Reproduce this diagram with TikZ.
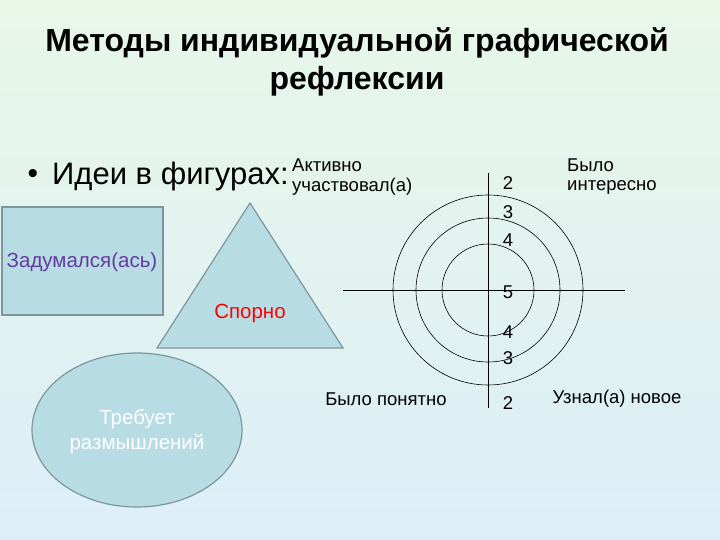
\documentclass[tikz,border=0pt]{standalone}
\usepackage{fontspec}
\setmainfont{Liberation Sans}
\usetikzlibrary{shapes.geometric}
\definecolor{bgtop}{RGB}{232,247,232}
\definecolor{bgbot}{RGB}{220,238,248}
\definecolor{shapefill}{RGB}{184,220,228}
\definecolor{shapeedge}{RGB}{125,150,158}
\definecolor{purp}{RGB}{100,60,160}
\tikzset{
  fig/.style={fill=shapefill,draw=shapeedge,line width=1.2pt},
  small/.style={font=\fontsize{18.5}{21}\selectfont,inner sep=0pt},
  big/.style={font=\fontsize{20.5}{25}\selectfont,inner sep=0pt},
  num/.style={font=\fontsize{18.5}{21}\selectfont,inner sep=0pt},
  ring/.style={draw=black,line width=0.6pt}
}
\begin{document}
\begin{tikzpicture}[x=1pt,y=-1pt]
\useasboundingbox (0,0) rectangle (720,540);
\shade[top color=bgtop,bottom color=bgbot] (0,0) rectangle (720,540);
% title
\node[font=\bfseries\fontsize{32}{38}\selectfont,align=center,inner sep=0pt] (title) at (357,62) {Методы индивидуальной графической\\рефлексии};
\node[font=\fontsize{30}{34}\selectfont,inner sep=0pt] (dot) at (33,176) {•};
\node[font=\fontsize{31}{36}\selectfont,anchor=west,inner sep=0pt] (bullet) at (52,176) {Идеи в фигурах:};
\node[small,anchor=west] (akt1) at (292,165) {Активно};
\node[small,anchor=west] (akt2) at (292,187) {участвовал(а)};
% rectangle
\draw[fig] (2,207) rectangle (163,315);
\node[big,text=purp] (zad) at (82,262) {Задумался(ась)};
% triangle
\draw[fig] (250,203) -- (343,348) -- (157,348) -- cycle;
\node[big,text=red] (sporno) at (250,313) {Спорно};
% ellipse
\draw[fig] (137,430) ellipse [x radius=105,y radius=77];
\node[big,text=white,align=center] (treb) at (137,432) {Требует\\размышлений};
% target
\coordinate (c) at (488,290);
\draw[ring] (c) circle [radius=95];
\draw[ring] (c) circle [radius=72];
\draw[ring] (c) circle [radius=46];
\coordinate (hl) at (343,290);
\coordinate (hr) at (625,290);
\coordinate (vt) at (488,173);
\coordinate (vb) at (488,408);
\draw[ring] (hl) -- (hr);
\draw[ring] (vt) -- (vb);
\node[num] (n2a) at (508,183) {2};
\node[num] (n3a) at (508,212) {3};
\node[num] (n4a) at (508,240) {4};
\node[num] (n5) at (508,292) {5};
\node[num] (n4b) at (508,332) {4};
\node[num] (n3b) at (508,358) {3};
\node[num] (n2b) at (508,403) {2};
\node[small,anchor=west] (byl1) at (567,165) {Было};
\node[small,anchor=west] (byl2) at (567,187) {интересно};
\node[small] (ponyat) at (386,399) {Было понятно};
\node[small] (uznal) at (617,399) {Узнал(а) новое};
\end{tikzpicture}
\end{document}
